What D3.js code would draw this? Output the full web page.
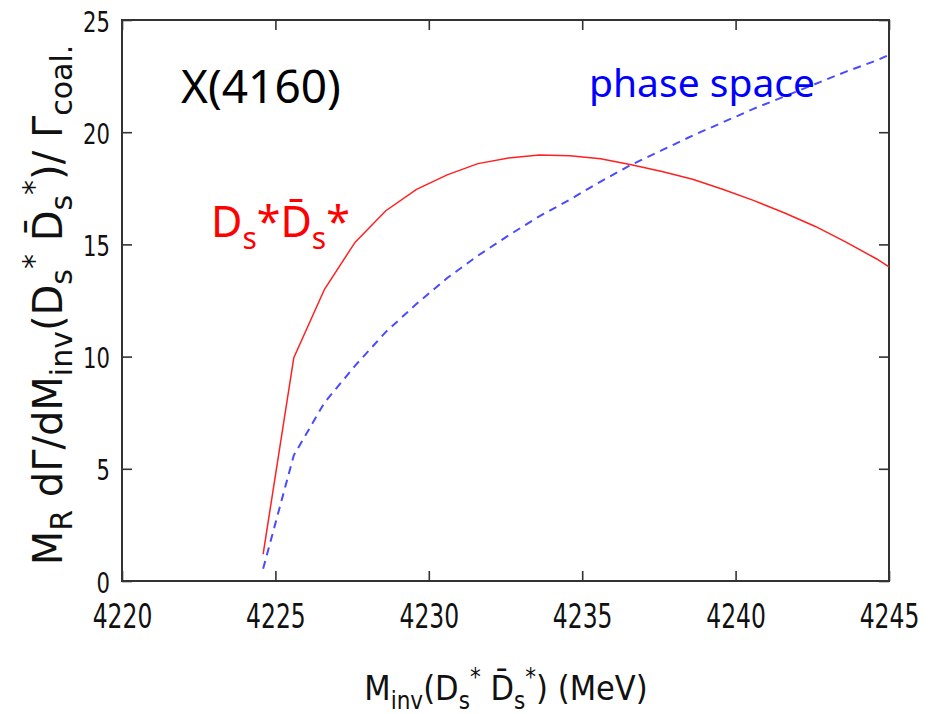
<!DOCTYPE html>
<html>
<head>
<meta charset="utf-8">
<script src="https://cdn.jsdelivr.net/npm/d3@7/dist/d3.min.js"></script>
<style>
  body { margin: 0; background: #fff; }
  svg { display: block; }
</style>
</head>
<body>
<div id="c1"></div>
<script>
// Data
var mass = [4224.6, 4225.6, 4226.6, 4227.6, 4228.6, 4229.6, 4230.6, 4231.6, 4232.6, 4233.6,
            4234.6, 4235.6, 4236.6, 4237.6, 4238.6, 4239.6, 4240.6, 4241.6, 4242.6, 4243.6,
            4244.6, 4245.0];
var dsds = [1.2, 9.95, 13.0, 15.1, 16.5, 17.45, 18.1, 18.6, 18.85, 18.98,
            18.95, 18.82, 18.55, 18.25, 17.9, 17.45, 16.95, 16.4, 15.8, 15.1,
            14.35, 14.0];
var phaseSpace = [0.55, 5.6, 7.95, 9.6, 11.1, 12.35, 13.5, 14.5, 15.4, 16.25,
                  17.0, 17.8, 18.55, 19.2, 19.85, 20.45, 21.05, 21.6, 22.15, 22.7,
                  23.2, 23.45];
var xTicks = [4220, 4225, 4230, 4235, 4240, 4245];
var yTicks = [0, 5, 10, 15, 20, 25];

function draw() {
    var W = 932, H = 714;
    var pL = 122, pR = 889, pT = 20, pB = 581;

    var svg = d3.select("#c1").append("svg")
        .attr("width", W)
        .attr("height", H);

    var x = d3.scaleLinear().domain([4220, 4245]).range([pL, pR]);
    var y = d3.scaleLinear().domain([0, 25]).range([pB, pT]);

    // Axes with inward ticks on all four sides
    var gx = svg.append("g")
        .attr("transform", "translate(0," + pB + ")")
        .call(d3.axisBottom(x).tickValues(xTicks).tickSize(-10).tickFormat(d3.format("d")));
    gx.selectAll("text")
        .attr("y", 47)
        .attr("dy", 0)
        .attr("transform", "scale(0.69,1)")
        .style("font-family", "DejaVu Sans")
        .style("font-size", "34px")
        .attr("fill", "#111");

    var gy = svg.append("g")
        .attr("transform", "translate(" + pL + ",0)")
        .call(d3.axisLeft(y).tickValues(yTicks).tickSize(-10));
    gy.selectAll("text")
        .attr("x", 0)
        .attr("dy", 0)
        .attr("y", 11)
        .attr("transform", "translate(-12,0) scale(0.73,1)")
        .style("font-family", "DejaVu Sans")
        .style("font-size", "29px")
        .attr("fill", "#111");

    svg.append("g")
        .attr("transform", "translate(0," + pT + ")")
        .call(d3.axisTop(x).tickValues(xTicks).tickSize(-10).tickFormat(""));
    svg.append("g")
        .attr("transform", "translate(" + pR + ",0)")
        .call(d3.axisRight(y).tickValues(yTicks).tickSize(-10).tickFormat(""));

    svg.selectAll(".domain").remove();
    svg.selectAll(".tick line").attr("stroke", "#333").attr("stroke-width", 1.6);

    svg.append("rect")
        .attr("x", pL).attr("y", pT)
        .attr("width", pR - pL).attr("height", pB - pT)
        .attr("fill", "none")
        .attr("stroke", "#333")
        .attr("stroke-width", 2);

    // Curves
    var pts = mass.map(function (m, i) {
        return { m: m, a: dsds[i], b: phaseSpace[i] };
    });

    var lineA = d3.line()
        .x(function (d) { return x(d.m); })
        .y(function (d) { return y(d.a); });
    var lineB = d3.line()
        .x(function (d) { return x(d.m); })
        .y(function (d) { return y(d.b); });

    svg.append("path")
        .datum(pts)
        .attr("d", lineB)
        .attr("fill", "none")
        .attr("stroke", "#4a4aff")
        .attr("stroke-width", 2)
        .attr("stroke-dasharray", "8,6");

    svg.append("path")
        .datum(pts)
        .attr("d", lineA)
        .attr("fill", "none")
        .attr("stroke", "#ff2020")
        .attr("stroke-width", 1.5);

    // In-plot labels
    svg.append("text")
        .attr("x", 181).attr("y", 103)
        .style("font-family", "Noto Sans")
        .style("font-size", "46px")
        .attr("fill", "#000")
        .text("X(4160)");

    svg.append("text")
        .attr("x", 589).attr("y", 97)
        .style("font-family", "Noto Sans")
        .style("font-size", "39px")
        .attr("fill", "#0000ff")
        .text("phase space");

    var red = svg.append("text")
        .attr("x", 211).attr("y", 237)
        .style("font-family", "Noto Sans")
        .style("font-size", "43px")
        .attr("fill", "#ff0000");
    red.append("tspan").text("D");
    red.append("tspan").attr("dy", 12).style("font-size", "30px").text("s");
    red.append("tspan").attr("dy", -12).text("*D\u0304");
    red.append("tspan").attr("dy", 12).style("font-size", "30px").text("s");
    red.append("tspan").attr("dy", -12).text("*");

    // Axis titles
    var xt = svg.append("text")
        .attr("transform", "translate(506,700) scale(0.9,1)")
        .attr("text-anchor", "middle")
        .style("font-family", "DejaVu Sans")
        .style("font-size", "34px")
        .attr("fill", "#111");
    xt.append("tspan").text("M");
    xt.append("tspan").attr("dy", 9).style("font-size", "24px").text("inv");
    xt.append("tspan").attr("dy", -9).text("(D");
    xt.append("tspan").attr("dy", 9).style("font-size", "24px").text("s");
    xt.append("tspan").attr("dy", -24).style("font-size", "24px").text("*");
    xt.append("tspan").attr("dy", 15).text(" D\u0304");
    xt.append("tspan").attr("dy", 9).style("font-size", "24px").text("s");
    xt.append("tspan").attr("dy", -24).style("font-size", "24px").text("*");
    xt.append("tspan").attr("dy", 15).text(") (MeV)");

    var yt = svg.append("text")
        .attr("transform", "translate(62,305) rotate(-90)")
        .attr("text-anchor", "middle")
        .style("font-family", "DejaVu Sans")
        .style("font-size", "40px")
        .attr("fill", "#111");
    yt.append("tspan").text("M");
    yt.append("tspan").attr("dy", 10).style("font-size", "30px").text("R");
    yt.append("tspan").attr("dy", -10).text(" d\u0393/dM");
    yt.append("tspan").attr("dy", 10).style("font-size", "30px").text("inv");
    yt.append("tspan").attr("dy", -10).text("(D");
    yt.append("tspan").attr("dy", 10).style("font-size", "30px").text("s");
    yt.append("tspan").attr("dy", -28).style("font-size", "30px").text("*");
    yt.append("tspan").attr("dy", 18).text(" D\u0304");
    yt.append("tspan").attr("dy", 10).style("font-size", "30px").text("s");
    yt.append("tspan").attr("dy", -28).style("font-size", "30px").text("*");
    yt.append("tspan").attr("dy", 18).text(")/ \u0393");
    yt.append("tspan").attr("dy", 10).style("font-size", "30px").text("coal.");
}

draw();
</script>
</body>
</html>
